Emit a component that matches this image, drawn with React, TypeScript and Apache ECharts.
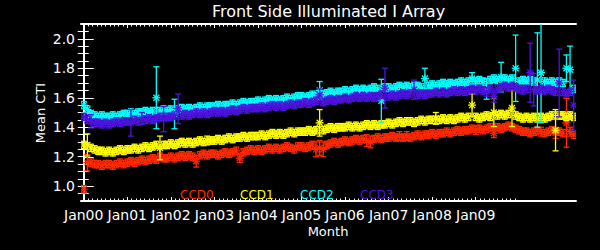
import React, { useEffect, useRef } from "react";
import * as echarts from "echarts";

// x tick labels (years since Jan 2000)
const tickYears = [0, 1, 2, 3, 4, 5, 6, 7, 8, 9];
const tickLabels = ["Jan00", "Jan01", "Jan02", "Jan03", "Jan04", "Jan05", "Jan06", "Jan07", "Jan08", "Jan09"];
const yTickValues = [1.0, 1.2, 1.4, 1.6, 1.8, 2.0];

const seriesNames = ["CCD0", "CCD1", "CCD2", "CCD3"];
const seriesColors = ["#ff2a00", "#ffff00", "#00ffff", "#4e14e0"];

// monthly mean CTI values, month 0 = Jan 2000
const ccd0 = [
  0.98, 1.16, 1.16, 1.15, 1.15, 1.14, 1.15, 1.15, 1.14, 1.15, 1.16, 1.15,
  1.16, 1.17, 1.16, 1.17, 1.18, 1.17, 1.18, 1.19, 1.18, 1.20, 1.19, 1.19,
  1.20, 1.19, 1.20, 1.21, 1.20, 1.21, 1.20, 1.17, 1.21, 1.22, 1.21, 1.22,
  1.22, 1.21, 1.22, 1.23, 1.22, 1.23, 1.24, 1.19, 1.23, 1.24, 1.25, 1.24,
  1.25, 1.24, 1.25, 1.26, 1.25, 1.26, 1.25, 1.26, 1.27, 1.26, 1.25, 1.27,
  1.27, 1.26, 1.27, 1.28, 1.25, 1.26, 1.25, 1.28, 1.29, 1.30, 1.29, 1.30,
  1.31, 1.30, 1.31, 1.32, 1.31, 1.32, 1.31, 1.30, 1.32, 1.33, 1.32, 1.33,
  1.33, 1.34, 1.33, 1.34, 1.33, 1.34, 1.33, 1.34, 1.35, 1.34, 1.35, 1.35,
  1.36, 1.35, 1.36, 1.36, 1.37, 1.36, 1.37, 1.38, 1.37, 1.38, 1.38, 1.39,
  1.38, 1.39, 1.38, 1.39, 1.40, 1.36, 1.40, 1.39, 1.40, 1.41, 1.40, 1.39,
  1.38, 1.37, 1.37, 1.36, 1.37, 1.38, 1.37, 1.36, 1.37, 1.38, 1.36, 1.37,
  1.36, 1.43, 1.37, 1.35,
];
const ccd1 = [
  1.28, 1.28, 1.26, 1.25, 1.24, 1.24, 1.23, 1.24, 1.23, 1.24, 1.25, 1.24,
  1.25, 1.25, 1.26, 1.25, 1.26, 1.27, 1.26, 1.27, 1.28, 1.26, 1.28, 1.28,
  1.29, 1.28, 1.29, 1.30, 1.29, 1.30, 1.29, 1.30, 1.31, 1.30, 1.31, 1.31,
  1.31, 1.32, 1.31, 1.32, 1.33, 1.32, 1.33, 1.33, 1.34, 1.33, 1.34, 1.34,
  1.34, 1.35, 1.34, 1.35, 1.36, 1.35, 1.36, 1.35, 1.36, 1.37, 1.36, 1.37,
  1.37, 1.37, 1.38, 1.37, 1.38, 1.43, 1.38, 1.39, 1.40, 1.39, 1.40, 1.40,
  1.40, 1.41, 1.40, 1.41, 1.40, 1.41, 1.42, 1.41, 1.42, 1.41, 1.42, 1.42,
  1.43, 1.42, 1.43, 1.44, 1.43, 1.44, 1.44, 1.43, 1.44, 1.45, 1.44, 1.45,
  1.45, 1.46, 1.45, 1.46, 1.45, 1.46, 1.45, 1.46, 1.47, 1.46, 1.47, 1.55,
  1.47, 1.46, 1.47, 1.48, 1.47, 1.50, 1.48, 1.49, 1.48, 1.49, 1.53, 1.48,
  1.47, 1.46, 1.47, 1.46, 1.47, 1.46, 1.47, 1.46, 1.47, 1.48, 1.38, 1.48,
  1.48, 1.47, 1.48, 1.47,
];
const ccd2 = [
  1.55, 1.52, 1.49, 1.48, 1.47, 1.48, 1.47, 1.47, 1.48, 1.47, 1.48, 1.49,
  1.49, 1.50, 1.49, 1.50, 1.50, 1.51, 1.50, 1.51, 1.60, 1.51, 1.52, 1.51,
  1.52, 1.49, 1.52, 1.53, 1.52, 1.53, 1.52, 1.53, 1.54, 1.53, 1.54, 1.54,
  1.54, 1.55, 1.54, 1.55, 1.55, 1.56, 1.55, 1.56, 1.57, 1.56, 1.57, 1.57,
  1.58, 1.57, 1.58, 1.59, 1.58, 1.59, 1.58, 1.59, 1.60, 1.59, 1.60, 1.61,
  1.61, 1.60, 1.61, 1.62, 1.61, 1.65, 1.62, 1.63, 1.64, 1.63, 1.64, 1.64,
  1.65, 1.64, 1.65, 1.66, 1.65, 1.66, 1.65, 1.66, 1.67, 1.66, 1.58, 1.67,
  1.67, 1.66, 1.67, 1.68, 1.67, 1.68, 1.67, 1.68, 1.68, 1.67, 1.73, 1.68,
  1.69, 1.68, 1.69, 1.70, 1.69, 1.70, 1.69, 1.70, 1.71, 1.70, 1.71, 1.73,
  1.71, 1.72, 1.71, 1.66, 1.72, 1.73, 1.72, 1.74, 1.73, 1.72, 1.73, 1.80,
  1.71, 1.72, 1.71, 1.72, 1.71, 1.72, 1.77, 1.71, 1.70, 1.71, 1.70, 1.71,
  1.70, 1.80, 1.79, 1.66,
];
const ccd3 = [
  1.47, 1.45, 1.44, 1.43, 1.43, 1.42, 1.43, 1.42, 1.43, 1.44, 1.43, 1.44,
  1.44, 1.43, 1.45, 1.44, 1.46, 1.45, 1.46, 1.45, 1.46, 1.47, 1.455, 1.47,
  1.47, 1.48, 1.525, 1.48, 1.49, 1.48, 1.49, 1.50, 1.49, 1.50, 1.49, 1.50,
  1.51, 1.50, 1.51, 1.50, 1.51, 1.52, 1.51, 1.52, 1.53, 1.52, 1.53, 1.53,
  1.53, 1.54, 1.53, 1.54, 1.55, 1.54, 1.55, 1.54, 1.55, 1.56, 1.55, 1.56,
  1.56, 1.57, 1.56, 1.57, 1.58, 1.62, 1.57, 1.58, 1.59, 1.58, 1.59, 1.59,
  1.60, 1.59, 1.60, 1.61, 1.60, 1.61, 1.60, 1.61, 1.60, 1.61, 1.62, 1.665,
  1.61, 1.62, 1.61, 1.62, 1.63, 1.62, 1.63, 1.655, 1.62, 1.63, 1.62, 1.63,
  1.63, 1.64, 1.63, 1.64, 1.63, 1.64, 1.65, 1.64, 1.65, 1.64, 1.65, 1.66,
  1.65, 1.66, 1.65, 1.64, 1.66, 1.61, 1.66, 1.67, 1.68, 1.67, 1.68, 1.67,
  1.66, 1.65, 1.66, 1.77, 1.655, 1.65, 1.66, 1.65, 1.66, 1.65, 1.64, 1.70,
  1.64, 1.63, 1.64, 1.55,
];

// typical half-width of the error bars, and the larger ones [month, half-width]
const baseErr = [0.025, 0.025, 0.025, 0.025];
const ccd0Err = [[1, 0.055], [31, 0.04], [43, 0.03], [64, 0.05], [65, 0.05], [66, 0.05], [78, 0.04], [79, 0.04], [87, 0.03], [89, 0.03], [108, 0.03], [113, 0.03], [126, 0.03], [130, 0.035], [133, 0.165], [134, 0.03]];
const ccd1Err = [[1, 0.075], [21, 0.08], [34, 0.03], [65, 0.09], [97, 0.04], [107, 0.075], [113, 0.095], [118, 0.125], [130, 0.14]];
const ccd2Err = [[0, 0.025], [20, 0.21], [25, 0.1], [65, 0.06], [82, 0.145], [94, 0.07], [107, 0.04], [111, 0.07], [115, 0.1], [119, 0.225], [125, 0.32], [126, 0.34], [133, 0.09], [134, 0.16]];
const ccd3Err = [[2, 0.045], [13, 0.09], [16, 0.04], [22, 0.085], [26, 0.1], [65, 0.04], [83, 0.135], [91, 0.065], [111, 0.03], [113, 0.04], [123, 0.2], [124, 0.11], [131, 0.23], [135, 0.17]];

const allValues = [ccd0, ccd1, ccd2, ccd3];
const allErrs = [ccd0Err, ccd1Err, ccd2Err, ccd3Err];

const FONT = "DejaVu Sans";

function makeRender(color: string) {
  return (params: any, api: any) => {
    const x = api.value(0);
    const y = api.value(1);
    const e = api.value(2);
    const c = api.coord([x, y]);
    const t = api.coord([x, y + e]);
    const b = api.coord([x, y - e]);
    const r = 4;
    const d = 3;
    const cw = 3;
    const st = { stroke: color, lineWidth: 1.3, fill: null };
    const ln = (x1: number, y1: number, x2: number, y2: number) => ({
      type: "line",
      shape: { x1, y1, x2, y2 },
      style: st,
      silent: true,
    });
    return {
      type: "group",
      children: [
        ln(c[0], t[1], c[0], b[1]),
        ln(c[0] - cw, t[1], c[0] + cw, t[1]),
        ln(c[0] - cw, b[1], c[0] + cw, b[1]),
        ln(c[0] - r, c[1], c[0] + r, c[1]),
        ln(c[0], c[1] - r, c[0], c[1] + r),
        ln(c[0] - d, c[1] - d, c[0] + d, c[1] + d),
        ln(c[0] - d, c[1] + d, c[0] + d, c[1] - d),
      ],
    };
  };
}

export default function App() {
  const ref = useRef<HTMLDivElement>(null);
  useEffect(() => {
    document.body.style.margin = "0";
    document.body.style.background = "#000";
    const chart = echarts.init(ref.current!, undefined, { renderer: "svg" });

    const xMin = -0.063;
    const xMax = 11.303;
    const xMinor: number[] = [];
    for (let k = 1; k < 100; k++) if (k % 10 !== 0) xMinor.push(k / 10);
    const yMinor: number[] = [];
    for (let k = 19; k <= 41; k++) if (k % 4 !== 0) yMinor.push(k * 0.05);
    const yRight: number[] = [];
    for (let k = 19; k <= 41; k++) yRight.push(k * 0.05);

    const white = "#ffffff";
    const lineStyle = { color: white, width: 2 };

    const series = allValues.map((vals, si) => {
      const errMap = new Map<number, number>(allErrs[si].map((p) => [p[0], p[1]]));
      return {
        type: "custom",
        name: seriesNames[si],
        xAxisIndex: 0,
        yAxisIndex: 0,
        renderItem: makeRender(seriesColors[si]),
        encode: { x: 0, y: 1 },
        clip: true,
        data: vals.map((v, i) => [i / 12, v, errMap.has(i) ? errMap.get(i) : baseErr[si]]),
      };
    });

    const hiddenX = (position: string, ticks: number[], len: number, showLine: boolean) => ({
      type: "value",
      position,
      min: xMin,
      max: xMax,
      axisLine: { show: showLine, lineStyle },
      axisTick: { show: true, inside: true, length: len, customValues: ticks, lineStyle: { color: white, width: 1 } },
      axisLabel: { show: false },
      splitLine: { show: false },
    });
    const hiddenY = (position: string, ticks: number[], len: number, showLine: boolean) => ({
      type: "value",
      position,
      min: 0.9,
      max: 2.1,
      axisLine: { show: showLine, lineStyle },
      axisTick: { show: true, inside: true, length: len, customValues: ticks, lineStyle: { color: white, width: 1 } },
      axisLabel: { show: false },
      splitLine: { show: false },
    });

    chart.setOption({
      animation: false,
      backgroundColor: "#000000",
      grid: { left: 81, right: 24, top: 24, bottom: 49, containLabel: false },
      xAxis: [
        {
          type: "value",
          position: "bottom",
          min: xMin,
          max: xMax,
          axisLine: { show: true, lineStyle },
          axisTick: { show: true, inside: true, length: 4, customValues: tickYears, lineStyle: { color: white, width: 1 } },
          axisLabel: {
            show: true,
            customValues: tickYears,
            margin: 7,
            color: white,
            fontFamily: FONT,
            fontSize: 14,
            formatter: (v: number) => tickLabels[Math.round(v)] ?? "",
          },
          splitLine: { show: false },
        },
        hiddenX("bottom", xMinor, 2.5, false),
        hiddenX("top", tickYears, 4, true),
        hiddenX("top", xMinor, 2.5, false),
      ],
      yAxis: [
        {
          type: "value",
          position: "left",
          min: 0.9,
          max: 2.1,
          axisLine: { show: true, lineStyle },
          axisTick: { show: true, inside: true, length: 10, customValues: yTickValues, lineStyle: { color: white, width: 1 } },
          axisLabel: {
            show: true,
            customValues: yTickValues,
            margin: 6,
            color: white,
            fontFamily: FONT,
            fontSize: 14,
            formatter: (v: number) => v.toFixed(1),
          },
          splitLine: { show: false },
        },
        hiddenY("left", yMinor, 5, false),
        hiddenY("right", yRight, 6, true),
      ],
      series,
      graphic: [
        {
          type: "text",
          x: 328.5,
          y: 11,
          style: { text: "Front Side Illuminated I Array", fill: white, font: `16px '${FONT}'`, align: "center", verticalAlign: "middle" },
        },
        {
          type: "text",
          x: 40,
          y: 113,
          rotation: Math.PI / 2,
          style: { text: "Mean CTI", fill: white, font: `13px '${FONT}'`, align: "center", verticalAlign: "middle" },
        },
        {
          type: "text",
          x: 328,
          y: 231,
          style: { text: "Month", fill: white, font: `13px '${FONT}'`, align: "center", verticalAlign: "middle" },
        },
        ...seriesNames.map((n, i) => ({
          type: "text",
          x: 180 + i * 60,
          y: 195,
          z: 100,
          style: { text: n, fill: seriesColors[i], font: `12px '${FONT}'`, align: "left", verticalAlign: "middle" },
        })),
      ],
    });
    return () => chart.dispose();
  }, []);
  return <div ref={ref} style={{ width: 600, height: 250 }} />;
}
